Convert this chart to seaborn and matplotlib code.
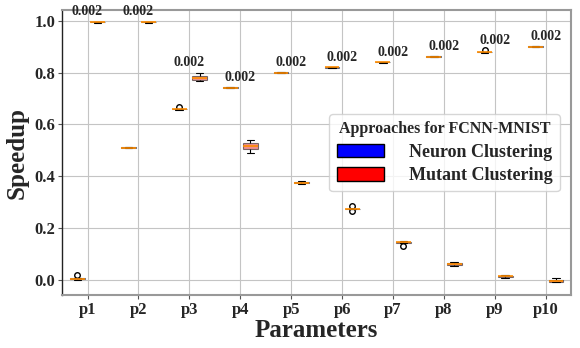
import pandas as pd
import matplotlib
matplotlib.use("Agg")
import matplotlib.pyplot as plt
import seaborn as sns
from matplotlib.patches import Patch

# Speedup measured over repeated runs, per parameter setting
params = ["p1", "p2", "p3", "p4", "p5", "p6", "p7", "p8", "p9", "p10"]
neuron_runs = [
    [0.000, 0.002, 0.004, 0.006, 0.016],
    [0.508, 0.509, 0.510, 0.511, 0.512],
    [0.657, 0.658, 0.659, 0.660, 0.666],
    [0.740, 0.741, 0.742, 0.743, 0.744],
    [0.798, 0.799, 0.800, 0.801, 0.802],
    [0.818, 0.819, 0.820, 0.821, 0.822],
    [0.838, 0.839, 0.840, 0.841, 0.842],
    [0.860, 0.861, 0.862, 0.863, 0.864],
    [0.876, 0.878, 0.879, 0.880, 0.886],
    [0.898, 0.899, 0.900, 0.901, 0.902],
]
mutant_runs = [
    [0.993, 0.994, 0.995, 0.996, 0.997],
    [0.993, 0.994, 0.995, 0.996, 0.997],
    [0.768, 0.772, 0.780, 0.788, 0.800],
    [0.488, 0.505, 0.515, 0.527, 0.540],
    [0.371, 0.373, 0.375, 0.377, 0.379],
    [0.264, 0.271, 0.272, 0.274, 0.283],
    [0.130, 0.143, 0.145, 0.147, 0.149],
    [0.052, 0.055, 0.060, 0.065, 0.068],
    [0.008, 0.010, 0.012, 0.014, 0.016],
    [-0.010, -0.008, -0.005, -0.002, 0.005],
]
p_values = ["0.002"] * 10

rows = []
for p, nr, mr in zip(params, neuron_runs, mutant_runs):
    rows += [(p, "Neuron Clustering", v) for v in nr]
    rows += [(p, "Mutant Clustering", v) for v in mr]
df = pd.DataFrame(rows, columns=["Parameter", "Approach", "Speedup"])

sns.set_style("whitegrid")
plt.rcParams["font.family"] = ["Liberation Serif", "DejaVu Serif"]
plt.rcParams["font.weight"] = "bold"

fig, ax = plt.subplots(figsize=(5.8, 3.48), dpi=100)
sns.boxplot(data=df, x="Parameter", y="Speedup", hue="Approach",
            palette={"Neuron Clustering": "blue", "Mutant Clustering": "red"},
            width=0.8, gap=0.27, linewidth=0.8, fliersize=4, legend=False,
            boxprops=dict(alpha=0.5, edgecolor="black"),
            medianprops=dict(color="darkorange", linewidth=1.2),
            whiskerprops=dict(color="black"), capprops=dict(color="black"),
            flierprops=dict(markeredgecolor="black", markerfacecolor="none"), ax=ax)

for i, (nr, mr, pv) in enumerate(zip(neuron_runs, mutant_runs, p_values)):
    top = max(max(nr), max(mr))
    ax.text(i, top + 0.012, pv, ha="center", va="bottom", fontsize=10, fontweight="bold")

ax.set_ylim(-0.06, 1.04)
ax.set_yticks([0.0, 0.2, 0.4, 0.6, 0.8, 1.0])
ax.grid(True, color="#c4c4c4", linewidth=0.8)
ax.set_xlabel("Parameters", fontsize=18, fontweight="bold", labelpad=1)
ax.set_ylabel("Speedup", fontsize=18, fontweight="bold", labelpad=4)
ax.tick_params(axis="both", labelsize=12, pad=2, length=3, color="#555555", left=True, bottom=True)
for lbl in ax.get_xticklabels() + ax.get_yticklabels():
    lbl.set_fontweight("bold")
for s in ax.spines.values():
    s.set_color("#999999")
    s.set_linewidth(1.5)
ax.spines["left"].set_color("#222222")
ax.spines["left"].set_linewidth(1.0)

handles = [Patch(facecolor="blue", edgecolor="black", label="Neuron Clustering"),
           Patch(facecolor="red", edgecolor="black", label="Mutant Clustering")]
leg = ax.legend(handles=handles, title="Approaches for FCNN-MNIST",
                loc="center right", bbox_to_anchor=(0.995, 0.50),
                prop={"size": 13, "weight": "bold"}, title_fontproperties={"size": 11.5, "weight": "bold"},
                handlelength=2.6, handleheight=0.8, handletextpad=1.4, labelspacing=0.35)

plt.subplots_adjust(left=0.107, right=0.985, top=0.97, bottom=0.152)
plt.savefig("out.png", dpi=100)
